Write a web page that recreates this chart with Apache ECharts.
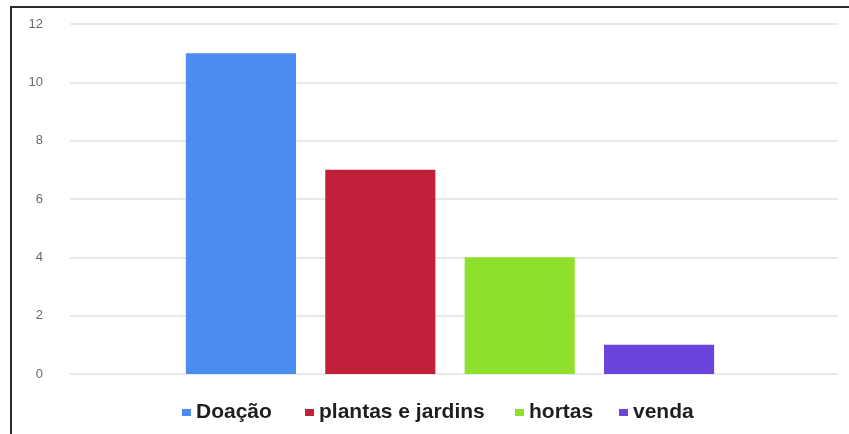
<!DOCTYPE html>
<html>
<head>
<meta charset="utf-8">
<script src="https://cdn.jsdelivr.net/npm/echarts@6/dist/echarts.min.js"></script>
<style>
html,body{margin:0;padding:0;background:#fff;}
#chart{width:849px;height:434px;}
</style>
</head>
<body>
<div id="chart"></div>
<script>
const seriesNames = ['Doação', 'plantas e jardins', 'hortas', 'venda'];
const seriesValues = [11, 7, 4, 1];
const seriesColors = ['#4a8cf0', '#c21f3b', '#8fe02c', '#6b44dc'];
const yTicks = [0, 2, 4, 6, 8, 10, 12];
const legendLefts = [182, 305, 515, 619];

const chart = echarts.init(document.getElementById('chart'), null, {renderer: 'canvas'});
const yMin = yTicks[0], yMax = yTicks[yTicks.length - 1];
const legendFont = {fontFamily: 'Liberation Sans, Arial, sans-serif', fontSize: 21, fontWeight: 'bold', color: '#1e1e1e'};
const option = {
  backgroundColor: '#ffffff',
  animation: false,
  grid: [
    {left: 70, right: 11, top: 24, bottom: 60, containLabel: false},
    {left: 70, right: 19, top: 24, bottom: 60, containLabel: false}
  ],
  graphic: [
    {type: 'line', shape: {x1: 11, y1: 6, x2: 11, y2: 434}, style: {stroke: '#2a2a2a', lineWidth: 2}},
    {type: 'line', shape: {x1: 10, y1: 7, x2: 849, y2: 7}, style: {stroke: '#2a2a2a', lineWidth: 2}}
  ],
  legend: seriesNames.map((n, i) => ({
    left: legendLefts[i],
    top: 402,
    icon: 'rect',
    itemWidth: 9,
    itemHeight: 7,
    padding: 0,
    textStyle: legendFont,
    data: [n]
  })),
  xAxis: [
    {type: 'category', gridIndex: 0, data: [''], show: false},
    {type: 'category', gridIndex: 1, data: [''], axisLine: {show: false}, axisTick: {show: false}, axisLabel: {show: false}, splitLine: {show: false}}
  ],
  yAxis: [
    {
      type: 'value', gridIndex: 0, min: yMin, max: yMax, interval: 2,
      axisLine: {show: false}, axisTick: {show: false},
      axisLabel: {margin: 27, fontFamily: 'Liberation Sans, Arial, sans-serif', fontSize: 13, color: '#6a6a6a'},
      splitLine: {lineStyle: {color: '#e2e2e2', width: 1.5}}
    },
    {
      type: 'value', gridIndex: 1, min: yMin, max: yMax, interval: 2,
      axisLine: {show: false}, axisTick: {show: false}, axisLabel: {show: false}, splitLine: {show: false}
    }
  ],
  series: seriesNames.map((name, i) => ({
    name: name,
    type: 'bar',
    xAxisIndex: 1,
    yAxisIndex: 1,
    data: [seriesValues[i]],
    barGap: '26.6%',
    barCategoryGap: '30.5%',
    itemStyle: {color: seriesColors[i]}
  }))
};
chart.setOption(option);
</script>
</body>
</html>
